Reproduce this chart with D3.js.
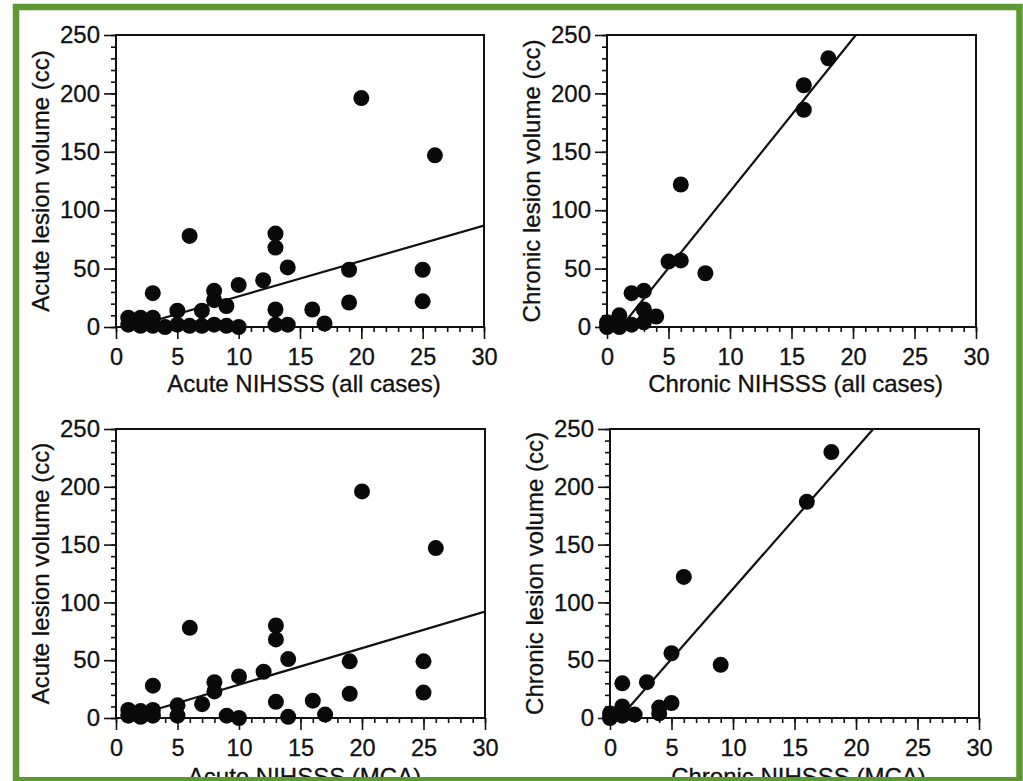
<!DOCTYPE html>
<html>
<head>
<meta charset="utf-8">
<script src="https://cdn.jsdelivr.net/npm/d3@7"></script>
<style>
  body { margin: 0; background: #fff; }
  svg { display: block; font-family: "Liberation Sans", Arial, Helvetica, sans-serif; }
  .axis text { fill: #111; stroke: #111; stroke-width: 0.3; }
  .axis line { stroke: #111; stroke-width: 1.6; }
  .title { fill: #111; stroke: #111; stroke-width: 0.3; }
</style>
</head>
<body>
<div id="chart"></div>
<script>
// points: [NIHSSS, lesion volume (cc)]
const acuteAll = [
  [1, 8], [1, 2], [2, 8], [2, 1], [3, 8], [3, 1], [3, 29], [4, 0],
  [5, 14], [5, 2], [6, 1], [6, 78], [7, 14], [7, 1], [8, 31], [8, 23], [8, 2],
  [9, 18], [9, 1], [10, 36], [10, 0], [12, 40], [13, 80], [13, 68], [13, 15], [13, 2],
  [14, 51], [14, 2], [16, 15], [17, 3], [19, 49], [19, 21], [20, 196],
  [25, 49], [25, 22], [26, 147]
];
const chronicAll = [
  [0, 0], [0, 4], [1, 10], [1, 0], [2, 2], [2, 29], [3, 31], [3, 15], [3, 4],
  [4, 9], [5, 56], [6, 57], [6, 122], [8, 46], [16, 186], [16, 207], [18, 230]
];
const acuteMca = [
  [1, 7], [1, 2], [2, 6], [2, 1], [3, 7], [3, 2], [3, 28], [5, 11], [5, 2],
  [6, 78], [7, 12], [8, 31], [8, 23], [9, 2], [10, 36], [10, 0], [12, 40],
  [13, 80], [13, 68], [13, 14], [14, 51], [14, 1], [16, 15], [17, 3],
  [19, 49], [19, 21], [20, 196], [25, 49], [25, 22], [26, 147]
];
const chronicMca = [
  [0, 0], [0, 4], [1, 30], [1, 10], [1, 2], [2, 3], [3, 31], [4, 9], [4, 4],
  [5, 13], [5, 56], [6, 122], [9, 46], [16, 187], [18, 230]
];

// regression lines: [slope, intercept]
const fitAcuteAll = [3.03, -4];
const fitChronicAll = [13.1, -15];
const fitAcuteMca = [3.16, -2.8];
const fitChronicMca = [12.13, -9.6];

const xTitles = ["Acute NIHSSS (all cases)", "Chronic NIHSSS (all cases)",
                 "Acute NIHSSS (MCA)", "Chronic NIHSSS (MCA)"];
const yTitles = ["Acute lesion volume (cc)", "Chronic lesion volume (cc)",
                 "Acute lesion volume (cc)", "Chronic lesion volume (cc)"];

const xMajor = [0, 5, 10, 15, 20, 25, 30];
const yMajor = [0, 50, 100, 150, 200, 250];
const xMinor = d3.range(0, 31, 1);
const yMinor = d3.range(0, 251, 10);

const W = 1023, H = 781;

// panel boxes in pixels
const boxes = [
  { left: 116, right: 484, top: 35, bottom: 327 },
  { left: 607, right: 976, top: 35, bottom: 327 },
  { left: 116, right: 485, top: 429, bottom: 718 },
  { left: 610, right: 979, top: 429, bottom: 718 }
];

const panels = [
  { pts: acuteAll, fit: fitAcuteAll },
  { pts: chronicAll, fit: fitChronicAll },
  { pts: acuteMca, fit: fitAcuteMca },
  { pts: chronicMca, fit: fitChronicMca }
];

const svg = d3.select("#chart").append("svg")
  .attr("width", W)
  .attr("height", H);

svg.append("rect").attr("width", W).attr("height", H).attr("fill", "#fff");

panels.forEach((p, i) => {
  const b = boxes[i];
  const x = d3.scaleLinear().domain([0, 30]).range([b.left, b.right]);
  const y = d3.scaleLinear().domain([0, 250]).range([b.bottom, b.top]);

  const g = svg.append("g");

  g.append("clipPath").attr("id", "clip" + i)
    .append("rect")
    .attr("x", b.left).attr("y", b.top)
    .attr("width", b.right - b.left).attr("height", b.bottom - b.top);

  // minor ticks
  g.append("g").attr("class", "axis")
    .attr("transform", `translate(0,${b.bottom})`)
    .call(d3.axisBottom(x).tickValues(xMinor).tickSize(5).tickFormat(""))
    .call(a => a.select(".domain").remove());
  g.append("g").attr("class", "axis")
    .attr("transform", `translate(${b.left},0)`)
    .call(d3.axisLeft(y).tickValues(yMinor).tickSize(5).tickFormat(""))
    .call(a => a.select(".domain").remove());

  // major ticks + labels
  g.append("g").attr("class", "axis")
    .attr("transform", `translate(0,${b.bottom})`)
    .call(d3.axisBottom(x).tickValues(xMajor).tickSize(12).tickPadding(9))
    .call(a => a.select(".domain").remove())
    .selectAll("text").style("font-size", "23.5px");
  g.append("g").attr("class", "axis")
    .attr("transform", `translate(${b.left},0)`)
    .call(d3.axisLeft(y).tickValues(yMajor).tickSize(12).tickPadding(4))
    .call(a => a.select(".domain").remove())
    .selectAll("text").style("font-size", "24px");

  // frame
  g.append("rect")
    .attr("x", b.left).attr("y", b.top)
    .attr("width", b.right - b.left).attr("height", b.bottom - b.top)
    .attr("fill", "none").attr("stroke", "#111").attr("stroke-width", 2);

  // regression line
  const [m, c] = p.fit;
  const x0 = Math.max(0, -c / m);
  const x1 = Math.min(30, (250 - c) / m);
  g.append("line")
    .attr("clip-path", `url(#clip${i})`)
    .attr("x1", x(x0)).attr("y1", y(m * x0 + c))
    .attr("x2", x(x1)).attr("y2", y(m * x1 + c))
    .attr("stroke", "#111").attr("stroke-width", 2.2);

  // points
  g.selectAll("circle.pt").data(p.pts).enter()
    .append("circle")
    .attr("class", "pt")
    .attr("cx", d => x(d[0]))
    .attr("cy", d => y(d[1]))
    .attr("r", 8)
    .attr("fill", "#0a0a0a");

  // titles (bottom row titles are cut by the frame border, as in the scan)
  g.append("text")
    .attr("class", "title")
    .attr("x", (b.left + b.right) / 2 + 4)
    .attr("y", b.bottom + (i < 2 ? 65 : 67))
    .attr("text-anchor", "middle")
    .style("font-size", "24px")
    .text(xTitles[i]);
  g.append("text")
    .attr("class", "title")
    .attr("transform", `translate(${b.left - 67},${(b.top + b.bottom) / 2}) rotate(-90)`)
    .attr("text-anchor", "middle")
    .style("font-size", "24px")
    .text(yTitles[i]);
});

// green border
svg.append("rect")
  .attr("x", 16).attr("y", 7)
  .attr("width", 1003.5).attr("height", 773.25)
  .attr("fill", "none")
  .attr("stroke", "#5f9934")
  .attr("stroke-width", 6.5);
</script>
</body>
</html>
